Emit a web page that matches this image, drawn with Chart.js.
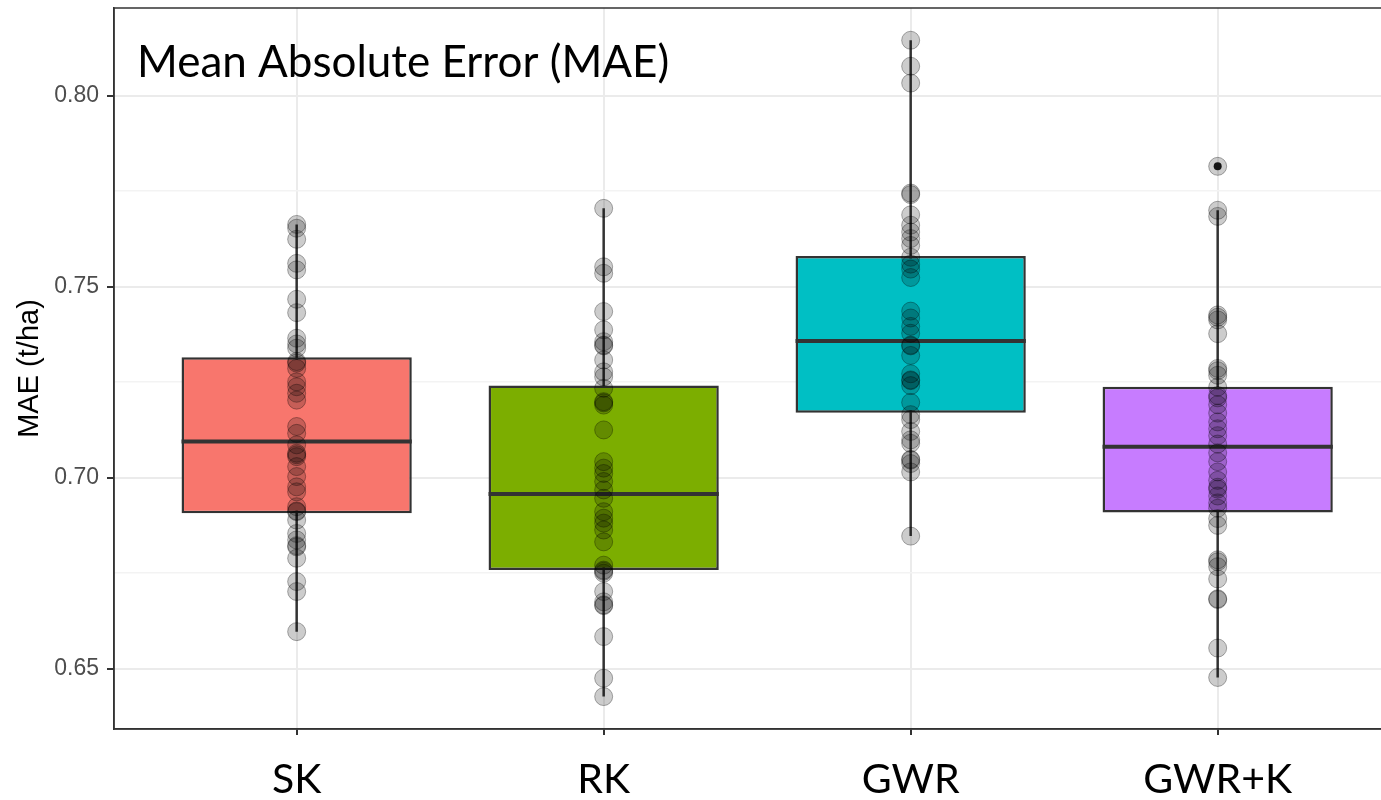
<!DOCTYPE html>
<html>
<head>
<meta charset="utf-8">
<title>Mean Absolute Error (MAE)</title>
<script src="https://cdn.jsdelivr.net/npm/chart.js@4.4.1/dist/chart.umd.min.js"></script>
<style>
  html, body { margin: 0; padding: 0; background: #fff; overflow: hidden; }
  #wrap { width: 1381px; height: 800px; }
</style>
</head>
<body>
<div id="wrap"><canvas id="maeChart"></canvas></div>
<script>
// Box-plot summary per model
const categories  = ['SK', 'RK', 'GWR', 'GWR+K'];
const boxColors   = ['#F8766D', '#7CAE00', '#00BFC4', '#C77CFF'];
const q1          = [0.6907, 0.6758, 0.7170, 0.6909];
const medians     = [0.7095, 0.6957, 0.7358, 0.7081];
const q3          = [0.7315, 0.7241, 0.7580, 0.7238];
const whiskerLow  = [0.6597, 0.6427, 0.6847, 0.6477];
const whiskerHigh = [0.7663, 0.7705, 0.8145, 0.7700];
const outliers    = [[], [], [], [0.7815]];

// Cross-validation runs per model
const skValues = [0.7663, 0.7653, 0.7624, 0.7561, 0.7544, 0.7467, 0.7432, 0.7365, 0.7350, 0.7339,
  0.7304, 0.7300, 0.7286, 0.7251, 0.7238, 0.7221, 0.7203, 0.7134, 0.7116, 0.7086, 0.7064, 0.7060,
  0.7055, 0.7029, 0.7003, 0.6976, 0.6963, 0.6924, 0.6913, 0.6911, 0.6889, 0.6854, 0.6837, 0.6822,
  0.6819, 0.6789, 0.6728, 0.6702, 0.6597];
const rkValues = [0.7705, 0.7552, 0.7535, 0.7435, 0.7387, 0.7356, 0.7347, 0.7345, 0.7308, 0.7277,
  0.7264, 0.7234, 0.7199, 0.7196, 0.7190, 0.7125, 0.7042, 0.7025, 0.7011, 0.6990, 0.6968, 0.6946,
  0.6911, 0.6894, 0.6881, 0.6863, 0.6832, 0.6771, 0.6758, 0.6755, 0.6750, 0.6702, 0.6675, 0.6667,
  0.6665, 0.6584, 0.6475, 0.6427];
const gwrValues = [0.8145, 0.8077, 0.8033, 0.7745, 0.7741, 0.7688, 0.7661, 0.7643, 0.7626, 0.7608,
  0.7577, 0.7559, 0.7546, 0.7524, 0.7436, 0.7418, 0.7396, 0.7378, 0.7347, 0.7345, 0.7320, 0.7272,
  0.7256, 0.7254, 0.7241, 0.7197, 0.7165, 0.7152, 0.7121, 0.7099, 0.7090, 0.7048, 0.7046, 0.7037,
  0.7015, 0.6847];
const gwrkValues = [0.7815, 0.7700, 0.7684, 0.7426, 0.7420, 0.7413, 0.7377, 0.7286, 0.7280, 0.7268,
  0.7237, 0.7215, 0.7209, 0.7191, 0.7169, 0.7146, 0.7128, 0.7110, 0.7088, 0.7065, 0.7042, 0.7015,
  0.6993, 0.6975, 0.6970, 0.6952, 0.6934, 0.6920, 0.6893, 0.6875, 0.6785, 0.6780, 0.6767, 0.6735,
  0.6683, 0.6681, 0.6554, 0.6477];
const runValues = [skValues, rkValues, gwrValues, gwrkValues];

// Axis ticks (minor breaks have no label)
const yTickValues = [0.65, 0.675, 0.70, 0.725, 0.75, 0.775, 0.80];
const yTickLabels = ['0.65', '', '0.70', '', '0.75', '', '0.80'];

const chartTitle = 'Mean Absolute Error (MAE)';
const yTitle = 'MAE (t/ha)';

const BOX_WIDTH = 0.75;
const DARK = '#333333';

// Panel frame + title inside the panel
const panelPlugin = {
    id: 'panelDecor',
    afterDatasetsDraw: function(chart) {
        var ctx = chart.ctx;
        var a = chart.chartArea;
        ctx.save();
        ctx.strokeStyle = DARK;
        ctx.lineWidth = 1.5;
        ctx.strokeRect(a.left, a.top, a.right - a.left + 20, a.bottom - a.top);
        ctx.font = '44px Lato';
        ctx.fillStyle = '#000';
        ctx.textBaseline = 'alphabetic';
        ctx.fillText(chartTitle, a.left + 23, a.top + 69);
        ctx.restore();
    }
};

function buildDatasets() {
    var datasets = [];
    var half = BOX_WIDTH / 2;

    categories.forEach(function(cat, i) {
        var x = i + 1;
        // whisker (box fill hides the middle part)
        datasets.push({
            type: 'line',
            data: [{ x: x, y: whiskerLow[i] }, { x: x, y: whiskerHigh[i] }],
            borderColor: DARK,
            borderWidth: 2.5,
            pointRadius: 0,
            order: 4
        });
        // median
        datasets.push({
            type: 'line',
            data: [{ x: x - half, y: medians[i] }, { x: x + half, y: medians[i] }],
            borderColor: DARK,
            borderWidth: 4,
            borderCapStyle: 'butt',
            pointRadius: 0,
            order: 2
        });
        // individual runs
        datasets.push({
            type: 'scatter',
            data: runValues[i].map(function(v) { return { x: x, y: v }; }),
            backgroundColor: 'rgba(0, 0, 0, 0.2)',
            borderColor: 'rgba(0, 0, 0, 0.32)',
            borderWidth: 1,
            pointRadius: 9,
            order: 0
        });
        if (outliers[i].length) {
            datasets.push({
                type: 'scatter',
                data: outliers[i].map(function(v) { return { x: x, y: v }; }),
                backgroundColor: '#1a1a1a',
                borderWidth: 0,
                pointRadius: 4,
                order: 1
            });
        }
    });

    // boxes: floating bars from Q1 to Q3
    datasets.push({
        type: 'bar',
        data: categories.map(function(c, i) { return { x: i + 1, y: [q1[i], q3[i]] }; }),
        backgroundColor: boxColors,
        borderColor: DARK,
        borderWidth: 2.5,
        borderSkipped: false,
        barPercentage: BOX_WIDTH,
        categoryPercentage: 1,
        order: 3
    });
    return datasets;
}

function drawChart() {
    var ctx = document.getElementById('maeChart');
    new Chart(ctx, {
        type: 'bar',
        data: { datasets: buildDatasets() },
        options: {
            responsive: true,
            maintainAspectRatio: false,
            animation: false,
            devicePixelRatio: 1,
            layout: { autoPadding: false, padding: { top: 8, right: 0, left: 0, bottom: 0 } },
            plugins: {
                legend: { display: false },
                tooltip: { enabled: false }
            },
            scales: {
                x: {
                    type: 'linear',
                    offset: false,
                    min: 0.405,
                    max: 4.532,
                    afterBuildTicks: function(scale) {
                        scale.ticks = categories.map(function(c, i) { return { value: i + 1 }; });
                    },
                    afterFit: function(scale) {
                        scale.height = 71;
                        scale.paddingLeft = 0;
                        scale.paddingRight = 0;
                    },
                    ticks: {
                        callback: function(value) { return categories[Math.round(value) - 1]; },
                        font: { family: 'Lato', size: 41 },
                        color: '#000',
                        padding: 20,
                        maxRotation: 0,
                        autoSkip: false
                    },
                    grid: {
                        offset: false,
                        color: '#ebebeb',
                        lineWidth: 2,
                        tickColor: DARK,
                        tickLength: 6
                    },
                    border: { color: DARK, width: 1.5 }
                },
                y: {
                    type: 'linear',
                    min: 0.63421,
                    max: 0.82295,
                    afterBuildTicks: function(scale) {
                        scale.ticks = yTickValues.map(function(v) { return { value: v }; });
                    },
                    afterFit: function(scale) {
                        scale.width = 114;
                        scale.paddingTop = 0;
                        scale.paddingBottom = 0;
                    },
                    ticks: {
                        callback: function(value, index) { return yTickLabels[index]; },
                        font: { family: 'Liberation Sans', size: 23 },
                        color: '#4d4d4d',
                        padding: 8,
                        autoSkip: false
                    },
                    grid: {
                        color: function(c) { return yTickLabels[c.index] ? '#ebebeb' : '#f3f3f3'; },
                        lineWidth: function(c) { return yTickLabels[c.index] ? 2 : 1.5; },
                        tickColor: function(c) { return yTickLabels[c.index] ? DARK : 'rgba(0,0,0,0)'; },
                        tickLength: 7
                    },
                    border: { color: DARK, width: 1.5 },
                    title: {
                        display: true,
                        text: yTitle,
                        font: { family: 'Liberation Sans', size: 29 },
                        color: '#000',
                        padding: { top: 13, bottom: 0 }
                    }
                }
            }
        },
        plugins: [panelPlugin]
    });
}

Promise.all([
    document.fonts.load('44px Lato'),
    document.fonts.load('23px "Liberation Sans"')
]).then(drawChart, drawChart);
</script>
</body>
</html>
